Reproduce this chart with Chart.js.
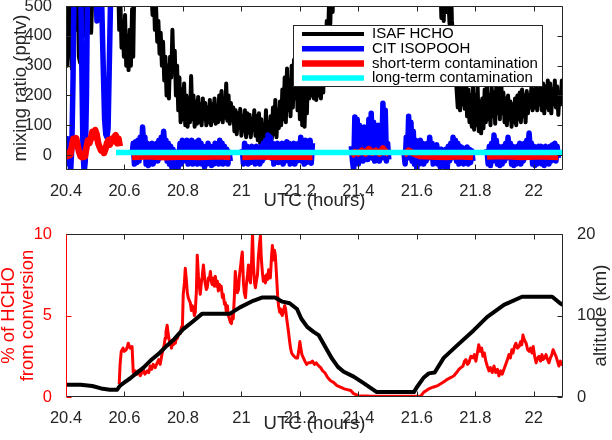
<!DOCTYPE html>
<html>
<head>
<meta charset="utf-8">
<script src="https://cdn.jsdelivr.net/npm/chart.js@4.4.1/dist/chart.umd.min.js"></script>
<style>
  html, body { margin: 0; padding: 0; background: #fff; }
  canvas { display: block; }
</style>
</head>
<body>
<canvas id="topChart" width="612" height="220"></canvas>
<canvas id="bottomChart" width="612" height="220"></canvas>
<script>
// ---------- shared axis ----------
const xTickValues = [20.4, 20.6, 20.8, 21, 21.2, 21.4, 21.6, 21.8, 22];
const xTickLabels = ['20.4', '20.6', '20.8', '21', '21.2', '21.4', '21.6', '21.8', '22'];

// ---------- top panel: mixing ratio (pptv), values above 500 run off the axis ----------
const topYTicks = [0, 100, 200, 300, 400, 500];

const hchoTime = [
  20.400, 20.404, 20.408, 20.412, 20.416, 20.420, 20.424, 20.428, 20.432, 20.436,
  20.440, 20.444, 20.448, 20.452, 20.456, 20.460, 20.464, 20.468, 20.472, 20.476,
  20.480, 20.486, 20.492, 20.498, 20.504, 20.510, 20.516, 20.522, 20.528, 20.540,
  20.552, 20.564, 20.578, 20.582, 20.586, 20.590, 20.594, 20.598, 20.602, 20.606,
  20.610, 20.614, 20.618, 20.622, 20.626, 20.630, 20.634, 20.690, 20.696, 20.700,
  20.704, 20.708, 20.712, 20.716, 20.720, 20.724, 20.728, 20.732, 20.736, 20.740,
  20.744, 20.748, 20.752, 20.756, 20.760, 20.764, 20.768, 20.772, 20.776, 20.780,
  20.784, 20.788, 20.792, 20.796, 20.800, 20.804, 20.808, 20.812, 20.816, 20.820,
  20.824, 20.828, 20.832, 20.836, 20.840, 20.844, 20.848, 20.852, 20.856, 20.860,
  20.864, 20.868, 20.872, 20.876, 20.880, 20.884, 20.888, 20.892, 20.896, 20.900,
  20.904, 20.908, 20.912, 20.916, 20.920, 20.924, 20.928, 20.932, 20.936, 20.940,
  20.944, 20.948, 20.952, 20.956, 20.960, 20.964, 20.968, 20.972, 20.976, 20.980,
  20.984, 20.988, 20.992, 20.996, 21.000, 21.004, 21.008, 21.012, 21.016, 21.020,
  21.024, 21.028, 21.032, 21.036, 21.040, 21.044, 21.048, 21.052, 21.056, 21.060,
  21.064, 21.068, 21.072, 21.076, 21.080, 21.084, 21.088, 21.092, 21.096, 21.100,
  21.104, 21.108, 21.112, 21.116, 21.120, 21.124, 21.128, 21.132, 21.136, 21.140,
  21.144, 21.148, 21.152, 21.156, 21.160, 21.164, 21.168, 21.172, 21.176, 21.180,
  21.184, 21.188, 21.192, 21.196, 21.200, 21.204, 21.208, 21.212, 21.216, 21.220,
  21.224, 21.228, 21.232, 21.236, 21.240, 21.244, 21.248, 21.252, 21.256, 21.260,
  21.264, 21.268, 21.272, 21.276, 21.280, 21.284, 21.288, 21.292, 21.296, 21.300,
  21.304, 21.308, 21.312, 21.316, 21.680, 21.684, 21.688, 21.692, 21.696, 21.700,
  21.704, 21.712, 21.716, 21.720, 21.724, 21.728, 21.732, 21.736, 21.740, 21.744,
  21.748, 21.752, 21.756, 21.760, 21.764, 21.768, 21.772, 21.776, 21.780, 21.784,
  21.788, 21.792, 21.796, 21.800, 21.804, 21.808, 21.812, 21.816, 21.820, 21.824,
  21.828, 21.832, 21.836, 21.840, 21.844, 21.848, 21.852, 21.856, 21.860, 21.864,
  21.868, 21.872, 21.876, 21.880, 21.884, 21.888, 21.892, 21.896, 21.900, 21.904,
  21.908, 21.912, 21.916, 21.920, 21.924, 21.928, 21.932, 21.936, 21.940, 21.944,
  21.948, 21.952, 21.956, 21.960, 21.964, 21.968, 21.972, 21.976, 21.980, 21.984,
  21.988, 21.992, 21.996, 22.000, 22.004, 22.008, 22.012, 22.016, 22.020, 22.024,
  22.028, 22.032, 22.036, 22.040, 22.044, 22.048, 22.052, 22.056, 22.060, 22.064,
  22.068, 22.072, 22.076, 22.080, 22.084, 22.088, 22.092, 22.096, 22.100
];
const hchoPptv = [
  480, 300, 520, 600, 380, 290, 450, 600, 600, 420,
  600, 330, 310, 520, 600, 400, 600, 430, 600, 450,
  600, 410, 600, 600, 520, 600, 600, 480, 600, 600,
  600, 600, 600, 420, 520, 360, 450, 330, 470, 300,
  400, 285, 420, 300, 490, 330, 600, 600, 470, 560,
  420, 500, 380, 450, 340, 410, 300, 380, 250, 330,
  200, 300, 190, 330, 260, 420, 280, 350, 200, 300,
  150, 260, 110, 220, 120, 240, 100, 200, 95, 190,
  110, 265, 120, 200, 95, 180, 105, 195, 110, 170,
  100, 190, 120, 175, 100, 160, 110, 185, 100, 170,
  115, 190, 105, 165, 110, 200, 120, 215, 110, 190,
  125, 240, 115, 200, 105, 175, 120, 160, 80, 150,
  70, 140, 90, 155, 65, 130, 80, 150, 60, 140,
  75, 135, 60, 120, 85, 150, 65, 130, 50, 140,
  40, 120, 30, 100, 45, 150, 35, 110, 60, 130,
  55, 160, 70, 185, 60, 150, 90, 180, 100, 220,
  120, 260, 110, 290, 150, 250, 130, 300, 160, 320,
  190, 300, 150, 280, 120, 260, 100, 240, 95, 230,
  140, 300, 190, 320, 200, 350, 190, 330, 185, 300,
  200, 350, 190, 320, 210, 400, 300, 450, 380, 520,
  440, 600, 480, 600, 600, 460, 600, 450, 600, 480,
  600, 440, 600, 450, 400, 350, 300, 220, 160, 240,
  150, 230, 170, 250, 155, 240, 130, 220, 110, 200,
  95, 250, 85, 200, 100, 230, 80, 180, 73, 190,
  90, 220, 110, 240, 120, 200, 100, 230, 130, 210,
  105, 240, 140, 260, 120, 280, 140, 210, 110, 190,
  100, 200, 120, 180, 95, 170, 110, 190, 100, 200,
  120, 210, 110, 220, 130, 200, 110, 215, 140, 200,
  160, 230, 150, 220, 160, 235, 150, 220, 170, 250,
  150, 240, 140, 230, 160, 250, 150, 240, 140, 220,
  170, 250, 160, 230, 135, 210, 170, 250, 190
];

// null marks a gap in the record
const isoTime = [
  20.400, 20.403, 20.406, 20.409, 20.412, 20.416, 20.420, 20.424, 20.428, 20.450,
  20.454, 20.458, 20.462, 20.466, 20.470, 20.474, 20.500, 20.506, 20.512, 20.520,
  20.526, 20.532, 20.536, 20.540, 20.544, 20.550, 20.554, 20.572, 20.600,
  20.626, 20.630, 20.634, 20.638, 20.642, 20.646, 20.650, 20.654, 20.658, 20.662,
  20.666, 20.670, 20.674, 20.678, 20.682, 20.686, 20.690, 20.694, 20.698, 20.702,
  20.706, 20.710, 20.714, 20.718, 20.722, 20.726, 20.730, 20.734, 20.738, 20.742,
  20.746, 20.750, 20.754, 20.758, 20.762, 20.766, 20.770, 20.774, 20.778, 20.782,
  20.786, 20.790, 20.794, 20.798, 20.802, 20.806, 20.810, 20.814, 20.818, 20.822,
  20.826, 20.830, 20.834, 20.838, 20.842, 20.846, 20.850, 20.854, 20.858, 20.862,
  20.866, 20.870, 20.874, 20.878, 20.882, 20.886, 20.890, 20.894, 20.898, 20.902,
  20.906, 20.910, 20.914, 20.918, 20.922, 20.926, 20.930, 20.934, 20.938, 20.942,
  20.946, 20.950, 20.954, 20.958, 20.962, 20.980,
  21.003, 21.007, 21.011, 21.015, 21.019, 21.023, 21.027, 21.031, 21.035, 21.039,
  21.043, 21.047, 21.051, 21.055, 21.059, 21.063, 21.067, 21.071, 21.075, 21.079,
  21.083, 21.087, 21.091, 21.095, 21.099, 21.103, 21.107, 21.111, 21.115, 21.119,
  21.123, 21.127, 21.131, 21.135, 21.139, 21.143, 21.147, 21.151, 21.155, 21.159,
  21.163, 21.167, 21.171, 21.175, 21.179, 21.183, 21.187, 21.191, 21.195, 21.199,
  21.203, 21.207, 21.211, 21.215, 21.219, 21.223, 21.227, 21.231, 21.235, 21.239,
  21.243, 21.300,
  21.376, 21.380, 21.384, 21.388, 21.392, 21.396, 21.400, 21.404, 21.408, 21.412,
  21.416, 21.420, 21.424, 21.428, 21.432, 21.436, 21.440, 21.444, 21.448, 21.452,
  21.456, 21.460, 21.464, 21.468, 21.472, 21.476, 21.480, 21.484, 21.488, 21.492,
  21.496, 21.500, 21.504, 21.530,
  21.556, 21.560, 21.564, 21.568, 21.572, 21.576, 21.580, 21.584, 21.588, 21.592,
  21.596, 21.600, 21.604, 21.608, 21.612, 21.616, 21.620, 21.624, 21.628, 21.632,
  21.636, 21.640, 21.644, 21.648, 21.652, 21.656, 21.660, 21.664, 21.668, 21.672,
  21.676, 21.680, 21.684, 21.688, 21.692, 21.696, 21.700, 21.704, 21.708, 21.712,
  21.716, 21.720, 21.724, 21.728, 21.732, 21.736, 21.740, 21.744, 21.748, 21.752,
  21.756, 21.760, 21.764, 21.768, 21.772, 21.776, 21.780, 21.784, 21.788, 21.792,
  21.820,
  21.840, 21.844, 21.848, 21.852, 21.856, 21.860, 21.864, 21.868, 21.872, 21.876,
  21.880, 21.884, 21.888, 21.892, 21.896, 21.900, 21.904, 21.908, 21.912, 21.916,
  21.920, 21.924, 21.928, 21.932, 21.936, 21.940, 21.944, 21.948, 21.952, 21.956,
  21.960, 21.964, 21.968, 21.972, 21.976, 21.980, 21.984, 21.988, 21.992, 21.996,
  22.000, 22.004, 22.008, 22.012, 22.016, 22.020, 22.024, 22.028, 22.032, 22.036,
  22.040, 22.044, 22.048, 22.052, 22.056, 22.060, 22.064, 22.068, 22.072, 22.076,
  22.080, 22.084
];
const isoPptv = [
  40, -10, 55, -30, 20, -55, 30, 250, 600, 600,
  300, 20, -60, -20, 200, 600, 600, 450, 600, 600,
  350, 120, 70, 60, 90, 400, 600, 600, null,
  0, 40, -30, 45, -25, 50, -20, 60, 10, 94,
  30, 60, -30, 40, -35, 30, -20, 40, -30, 30,
  -10, 40, -20, 50, -10, 60, 20, 80, 30, 50,
  -20, 40, -30, 30, -40, 20, -30, 10, -50, -60,
  -20, 40, -30, 50, -10, 45, -20, 50, -30, 40,
  -20, 50, -30, 40, -20, 45, -30, 50, 0, 40,
  -30, 30, -40, 20, -30, 40, -20, 30, -35, 25,
  -30, 40, -20, 30, -30, 50, 10, 40, -30, 30,
  -20, 20, -30, 10, -20, null,
  20, -30, 40, -20, 30, -30, 20, -25, 30, -20,
  25, -30, 30, -20, 20, -30, 30, -20, 40, -10,
  50, 0, 67, 20, 60, -10, 40, -30, 30, -20,
  40, -25, 30, -20, 40, -30, 30, -20, 45, -10,
  40, -30, 30, -20, 40, -30, 30, -20, 40, -10,
  60, -20, 40, -30, 50, -25, 40, -20, 50, -27,
  40, null,
  30, -20, -50, 128, 20, 120, -30, 100, 0, 90,
  -20, 94, 10, 80, -15, 120, 20, 140, -10, 110,
  -20, 90, -10, 100, -20, 60, -10, 174, 30, 150,
  -20, 40, -15, null,
  10, -30, 60, -10, 130, 20, 110, -20, 80, -30,
  50, -45, 40, -30, 50, -20, 40, -30, 30, -20,
  40, -10, 60, 0, 40, -30, 30, -20, 35, -30,
  20, -40, 20, -30, 10, -40, 20, -45, 30, -20,
  40, -10, 60, 0, 50, -20, 40, -30, 30, -20,
  25, -30, 20, -20, 27, -30, 20, -25, 15, -20,
  null,
  20, -30, 30, -35, 40, -20, 67, 10, 50, -30,
  30, -35, 20, -30, 30, -20, 40, -10, 60, 10,
  40, -30, 30, -35, 20, -30, 30, -20, 40, -30,
  30, -20, 40, -10, 50, 10, 74, 20, 40, -30,
  30, -35, 20, -30, 30, -20, 30, -30, 20, -35,
  30, -20, 25, -30, 30, -20, 35, -10, 40, -20,
  30, -10
];

const shortTime = [
  20.400, 20.405, 20.410, 20.415, 20.420, 20.425, 20.430, 20.435, 20.440, 20.445,
  20.450, 20.455, 20.460, 20.465, 20.470, 20.475, 20.480, 20.485, 20.490, 20.495,
  20.500, 20.505, 20.510, 20.515, 20.520, 20.525, 20.530, 20.535, 20.540, 20.545,
  20.550, 20.555, 20.560, 20.565, 20.570, 20.575, 20.580, 20.584, 20.600,
  20.626, 20.680, 20.740, 20.800, 20.860, 20.920, 20.962, 20.980,
  21.003, 21.060, 21.120, 21.180, 21.243, 21.300,
  21.376, 21.388, 21.400, 21.412, 21.424, 21.436, 21.448, 21.460, 21.472, 21.484, 21.496, 21.504, 21.530,
  21.556, 21.572, 21.590, 21.610, 21.650, 21.700, 21.740, 21.792, 21.820,
  21.840, 21.900, 21.960, 22.020, 22.084
];
const shortPptv = [
  5, -3, 8, 0, 30, 55, 35, 57, 30, 10,
  -5, -7, 5, -5, 25, 50, 40, 55, 78, 60,
  84, 70, 40, 27, 15, 20, 7, 20, 40, 50,
  35, 55, 45, 60, 67, 40, 55, 30, null,
  -6, -4, -7, -5, -6, -4, -6, null,
  -6, -4, -6, -5, -6, null,
  -3, 10, 5, 15, 5, 20, 8, 15, 5, 22, 8, 5, null,
  0, 15, 5, -3, -5, -6, -4, -6, null,
  -5, -3, -6, -4, -6
];

const longTime = [20.571, 22.100];
const longPptv = [9, 9];

// ---------- bottom panel ----------
const pctTicks = [0, 5, 10];
const altTicks = [0, 10, 20];

const pctTime = [
  20.582, 20.585, 20.589, 20.595, 20.599, 20.606, 20.610, 20.613, 20.619, 20.626,
  20.630, 20.637, 20.643, 20.648, 20.654, 20.659, 20.664, 20.670, 20.678, 20.683,
  20.688, 20.693, 20.698, 20.705, 20.712, 20.717, 20.722, 20.728, 20.733, 20.736,
  20.739, 20.742, 20.746, 20.750, 20.754, 20.757, 20.761, 20.764, 20.767, 20.771,
  20.774, 20.778, 20.781, 20.786, 20.791, 20.795, 20.798, 20.801, 20.805, 20.808,
  20.812, 20.815, 20.818, 20.822, 20.825, 20.829, 20.832, 20.836, 20.839, 20.842,
  20.846, 20.849, 20.853, 20.856, 20.859, 20.863, 20.866, 20.870, 20.873, 20.876,
  20.880, 20.883, 20.887, 20.890, 20.894, 20.897, 20.900, 20.904, 20.907, 20.911,
  20.914, 20.918, 20.921, 20.925, 20.928, 20.931, 20.935, 20.938, 20.942, 20.945,
  20.949, 20.952, 20.955, 20.959, 20.962, 20.966, 20.969, 20.972, 20.976, 20.979,
  20.983, 20.986, 20.990, 20.993, 20.997, 21.000, 21.003, 21.007, 21.010, 21.014,
  21.017, 21.021, 21.024, 21.028, 21.031, 21.035, 21.038, 21.041, 21.045, 21.048,
  21.051, 21.055, 21.058, 21.062, 21.065, 21.068, 21.072, 21.075, 21.079, 21.082,
  21.086, 21.089, 21.093, 21.096, 21.099, 21.103, 21.106, 21.110, 21.113, 21.116,
  21.120, 21.124, 21.127, 21.131, 21.134, 21.137, 21.140, 21.144, 21.148, 21.151,
  21.155, 21.158, 21.161, 21.165, 21.168, 21.172, 21.175, 21.180, 21.186, 21.192,
  21.196, 21.200, 21.203, 21.207, 21.212, 21.217, 21.223, 21.229, 21.236, 21.243,
  21.250, 21.256, 21.260, 21.265, 21.271, 21.278, 21.285, 21.295, 21.305, 21.315,
  21.327, 21.339, 21.352, 21.374, 21.384, 21.400, 21.450, 21.500, 21.560, 21.613,
  21.624, 21.633, 21.641, 21.655, 21.672, 21.690, 21.706, 21.717, 21.727, 21.736,
  21.744, 21.751, 21.758, 21.763, 21.768, 21.773, 21.778, 21.785, 21.792, 21.797,
  21.802, 21.807, 21.812, 21.817, 21.822, 21.826, 21.831, 21.836, 21.841, 21.847,
  21.852, 21.858, 21.864, 21.870, 21.876, 21.881, 21.887, 21.892, 21.898, 21.904,
  21.910, 21.915, 21.920, 21.925, 21.929, 21.934, 21.939, 21.944, 21.950, 21.955,
  21.959, 21.963, 21.968, 21.974, 21.979, 21.984, 21.989, 21.994, 21.998, 22.003,
  22.008, 22.013, 22.018, 22.023, 22.028, 22.032, 22.037, 22.042, 22.047, 22.052,
  22.057, 22.062, 22.066, 22.071, 22.076, 22.081, 22.086, 22.091, 22.096, 22.100
];
const pctValue = [
  0.8, 2.0, 2.8, 3.0, 2.8, 2.9, 3.1, 3.3, 3.0, 3.1,
  1.5, 1.6, 1.4, 1.6, 1.3, 1.5, 1.7, 1.4, 1.6, 1.5,
  1.9, 1.7, 2.0, 1.8, 2.1, 2.3, 2.0, 2.6, 3.0, 3.2,
  3.6, 4.0, 4.4, 3.8, 3.4, 3.3, 3.0, 3.4, 3.2, 3.5,
  3.3, 3.7, 3.6, 3.9, 3.9, 4.3, 4.2, 6.3, 7.0, 7.9,
  7.1, 6.4, 6.1, 5.9, 5.8, 5.3, 5.6, 5.4, 5.0, 5.2,
  6.5, 8.7, 7.4, 6.8, 6.3, 7.0, 7.4, 8.1, 7.5, 7.0,
  6.6, 6.7, 7.3, 7.2, 7.7, 7.1, 6.9, 7.3, 6.8, 7.4,
  6.8, 7.1, 6.5, 6.9, 6.6, 6.8, 6.1, 6.3, 5.7, 5.8,
  5.1, 5.6, 5.0, 4.8, 4.6, 4.5, 5.0, 4.8, 6.2, 7.7,
  6.9, 6.4, 6.6, 7.4, 8.0, 8.5, 8.9, 7.0, 6.4, 6.1,
  6.9, 7.5, 8.1, 7.2, 7.0, 8.4, 10.0, 8.2, 7.0, 6.7,
  7.1, 7.5, 8.6, 9.4, 9.9, 8.5, 7.6, 7.1, 7.4, 7.0,
  7.5, 7.2, 7.8, 7.3, 7.3, 8.6, 9.3, 8.4, 9.0, 8.7,
  7.5, 6.2, 5.6, 5.2, 5.4, 5.1, 5.0, 5.3, 5.6, 5.4,
  4.8, 4.4, 4.0, 3.4, 3.0, 2.7, 2.6, 2.5, 2.4, 2.4,
  2.8, 3.4, 3.0, 2.6, 2.4, 2.2, 2.0, 2.1, 2.1, 2.2,
  2.0, 2.1, 2.0, 1.9, 1.8, 1.6, 1.5, 1.2, 1.0, 0.9,
  0.7, 0.6, 0.5, 0.4, 0.2, 0.08, 0.05, 0.05, 0.05, 0.05,
  0.3, 0.4, 0.5, 0.6, 0.7, 0.9, 1.1, 1.2, 1.3, 1.5,
  1.7, 1.8, 1.9, 2.2, 2.3, 2.0, 2.1, 2.5, 2.4, 2.6,
  2.2, 2.7, 3.2, 2.8, 3.0, 2.5, 2.7, 2.2, 1.9, 1.6,
  1.8, 1.5, 1.9, 1.5, 1.7, 1.3, 1.6, 1.4, 1.7, 2.0,
  2.3, 2.6, 2.4, 2.9, 2.7, 3.1, 3.3, 3.0, 3.1, 3.4,
  3.2, 3.8, 3.5, 3.3, 2.9, 2.8, 3.0, 2.7, 3.1, 2.5,
  2.1, 2.4, 2.5, 2.2, 2.6, 2.3, 2.4, 2.6, 2.3, 2.1,
  2.4, 2.6, 2.9, 2.7, 2.5, 2.2, 1.9, 2.2, 2.0, 2.1
];

const altTime = [
  20.400, 20.450, 20.490, 20.520, 20.550, 20.575, 20.585, 20.600, 20.620, 20.640,
  20.665, 20.690, 20.720, 20.745, 20.770, 20.800, 20.835, 20.865, 20.900, 20.960,
  20.995, 21.040, 21.070, 21.115, 21.140, 21.165, 21.190, 21.205, 21.225, 21.247,
  21.264, 21.291, 21.310, 21.330, 21.350, 21.384, 21.418, 21.463, 21.590, 21.600,
  21.624, 21.641, 21.661, 21.692, 21.737, 21.795, 21.840, 21.898, 21.960, 22.063,
  22.090, 22.100
];
const altKm = [
  1.5, 1.5, 1.35, 1.05, 0.9, 0.9, 1.4, 1.8, 2.3, 2.9,
  3.6, 4.5, 5.4, 6.3, 7.1, 8.3, 9.3, 10.2, 10.2, 10.2,
  11.0, 11.8, 12.2, 12.2, 11.7, 11.5, 10.8, 9.6, 8.6, 8.0,
  7.6, 5.9, 4.7, 3.7, 3.1, 2.5, 1.7, 0.6, 0.6, 1.2,
  2.4, 2.9, 3.0, 4.8, 6.3, 8.2, 9.8, 11.3, 12.3, 12.3,
  11.5, 11.3
];

// ---------- helpers ----------
const FONT = '"Liberation Sans", Helvetica, Arial, sans-serif';
const INK = '#262626';
Chart.defaults.font.family = FONT;
Chart.defaults.color = INK;

const toPoints = (ts, vs) => ts.map((t, i) => ({ x: t, y: vs[i] }));

// force a fixed thickness for an axis box so the plot area lands where it should
function fixSize(size) {
  return scale => {
    if (scale.isHorizontal()) scale.height = size; else scale.width = size;
    scale.paddingTop = scale.paddingBottom = scale.paddingLeft = scale.paddingRight = 0;
  };
}
function useTicks(values) {
  return scale => { scale.ticks = values.map(v => ({ value: v })); };
}

// matlab-like box with inward ticks
const framePlugin = {
  id: 'frame',
  afterDatasetsDraw(chart, args, opts) {
    const { ctx, chartArea: a, scales } = chart;
    const L = Math.round(a.left) + 0.5, R = Math.round(a.right) - 0.5;
    const T = Math.round(a.top) + 0.5, B = Math.round(a.bottom) - 0.5;
    const len = 5;
    ctx.save();
    ctx.lineWidth = 1;
    const seg = (x1, y1, x2, y2, c) => {
      ctx.strokeStyle = c;
      ctx.beginPath(); ctx.moveTo(x1, y1); ctx.lineTo(x2, y2); ctx.stroke();
    };
    for (const m of opts.marks) {
      const s = scales[m.scale];
      for (const t of s.ticks) {
        const p = Math.round(s.getPixelForValue(t.value)) + 0.5;
        for (const side of m.sides) {
          if (side === 'bottom') seg(p, B, p, B - len, m.color);
          if (side === 'top') seg(p, T, p, T + len, m.color);
          if (side === 'left') seg(L, p, L + len, p, m.color);
          if (side === 'right') seg(R, p, R - len, p, m.color);
        }
      }
    }
    seg(L, T, R, T, opts.edges.top);
    seg(L, B, R, B, opts.edges.bottom);
    seg(R, T, R, B, opts.edges.right);
    seg(L, T, L, B, opts.edges.left);
    if (opts.rightTitle) {
      ctx.fillStyle = INK;
      ctx.font = '18.5px ' + FONT;
      ctx.textAlign = 'center';
      ctx.textBaseline = 'middle';
      ctx.translate(opts.rightTitle.x, (a.top + a.bottom) / 2);
      ctx.rotate(-Math.PI / 2);
      ctx.fillText(opts.rightTitle.text, 0, 0);
    }
    ctx.restore();
  }
};

// boxed legend placed inside the plot area
const boxLegend = {
  id: 'boxLegend',
  afterDraw(chart, args, o) {
    if (!o || !o.w) return;
    const { ctx } = chart;
    ctx.save();
    ctx.fillStyle = '#fff';
    ctx.fillRect(o.x, o.y, o.w, o.h);
    ctx.strokeStyle = INK;
    ctx.lineWidth = 1;
    ctx.strokeRect(o.x + 0.5, o.y + 0.5, o.w - 1, o.h - 1);
    ctx.font = '15px ' + FONT;
    ctx.textBaseline = 'middle';
    ctx.textAlign = 'left';
    chart.data.datasets.forEach((ds, i) => {
      const y = o.y + o.first + i * o.row;
      ctx.strokeStyle = ds.borderColor;
      ctx.lineWidth = ds.borderWidth;
      ctx.beginPath();
      ctx.moveTo(o.x + o.lineStart, y);
      ctx.lineTo(o.x + o.lineEnd, y);
      ctx.stroke();
      ctx.fillStyle = '#000';
      ctx.fillText(ds.label, o.x + o.textStart, y);
    });
    ctx.restore();
  }
};

const xScale = (height, titlePad) => ({
  type: 'linear',
  min: 20.4,
  max: 22.1,
  afterBuildTicks: useTicks(xTickValues),
  afterFit: fixSize(height),
  grid: { display: false },
  border: { display: false },
  ticks: {
    callback: (v, i) => xTickLabels[i],
    padding: 4,
    autoSkip: false,
    maxRotation: 0,
    font: { size: 16.5 },
    color: INK
  },
  title: {
    display: true,
    text: 'UTC (hours)',
    color: INK,
    font: { size: 18.5 },
    padding: { top: 0, bottom: titlePad }
  }
});

const common = {
  responsive: false,
  animation: false,
  devicePixelRatio: 1,
  events: [],
  elements: {
    point: { radius: 0 },
    line: { tension: 0, borderJoinStyle: 'round', borderCapStyle: 'butt', fill: false }
  },
  datasets: { line: { clip: 0, spanGaps: false } }
};

// ---------- top chart ----------
new Chart(document.getElementById('topChart'), {
  type: 'line',
  data: {
    datasets: [
      { label: 'ISAF HCHO', data: toPoints(hchoTime, hchoPptv), borderColor: '#000000', borderWidth: 4, order: 3 },
      { label: 'CIT ISOPOOH', data: toPoints(isoTime, isoPptv), borderColor: '#0000ff', borderWidth: 5.5, order: 2 },
      { label: 'short-term contamination', data: toPoints(shortTime, shortPptv), borderColor: '#ff0000', borderWidth: 6.5, order: 1 },
      { label: 'long-term contamination', data: toPoints(longTime, longPptv), borderColor: '#00ffff', borderWidth: 5.5, order: 0 }
    ]
  },
  options: {
    ...common,
    layout: { padding: { top: 6, right: 49, left: 0, bottom: 0 } },
    plugins: {
      legend: { display: false },
      tooltip: { enabled: false },
      frame: {
        marks: [
          { scale: 'x', sides: ['bottom', 'top'], color: INK },
          { scale: 'y', sides: ['left', 'right'], color: INK }
        ],
        edges: { top: INK, bottom: INK, left: INK, right: INK }
      },
      boxLegend: { x: 293, y: 25, w: 250, h: 62, first: 9, row: 14.7, lineStart: 9, lineEnd: 71, textStart: 79 }
    },
    scales: {
      x: xScale(50, 8),
      y: {
        min: -50,
        max: 500,
        afterBuildTicks: useTicks(topYTicks),
        afterFit: fixSize(66),
        grid: { display: false },
        border: { display: false },
        ticks: { padding: 6, font: { size: 16.5 }, color: INK },
        title: {
          display: true,
          text: 'mixing ratio (pptv)',
          color: INK,
          font: { size: 18.5 },
          padding: { top: 10, bottom: 0 }
        }
      }
    }
  },
  plugins: [framePlugin, boxLegend]
});

// ---------- bottom chart ----------
new Chart(document.getElementById('bottomChart'), {
  type: 'line',
  data: {
    datasets: [
      { label: '% of HCHO from conversion', data: toPoints(pctTime, pctValue), borderColor: '#ff0000', borderWidth: 3, yAxisID: 'y', order: 1 },
      { label: 'altitude (km)', data: toPoints(altTime, altKm), borderColor: '#000000', borderWidth: 4, yAxisID: 'y1', order: 0 }
    ]
  },
  options: {
    ...common,
    layout: { padding: { top: 14, right: 0, left: 0, bottom: 0 } },
    plugins: {
      legend: { display: false },
      tooltip: { enabled: false },
      frame: {
        marks: [
          { scale: 'x', sides: ['bottom', 'top'], color: INK },
          { scale: 'y', sides: ['left'], color: '#ff0000' },
          { scale: 'y1', sides: ['right'], color: INK }
        ],
        edges: { top: INK, bottom: INK, left: '#ff0000', right: INK },
        rightTitle: { text: 'altitude (km)', x: 601 }
      },
      boxLegend: {}
    },
    scales: {
      x: xScale(43, 5),
      y: {
        position: 'left',
        min: 0,
        max: 10,
        afterBuildTicks: useTicks(pctTicks),
        afterFit: fixSize(66),
        grid: { display: false },
        border: { display: false },
        ticks: { padding: 6, font: { size: 16.5 }, color: '#ff0000' },
        title: {
          display: true,
          text: ['% of HCHO', 'from conversion'],
          color: '#ff0000',
          font: { size: 18.5, lineHeight: 1.0 },
          padding: { top: 0, bottom: 0 }
        }
      },
      y1: {
        position: 'right',
        min: 0,
        max: 20,
        afterBuildTicks: useTicks(altTicks),
        afterFit: fixSize(49),
        grid: { display: false },
        border: { display: false },
        ticks: { padding: 6, font: { size: 16.5 }, color: INK }
      }
    }
  },
  plugins: [framePlugin, boxLegend]
});
</script>
</body>
</html>
